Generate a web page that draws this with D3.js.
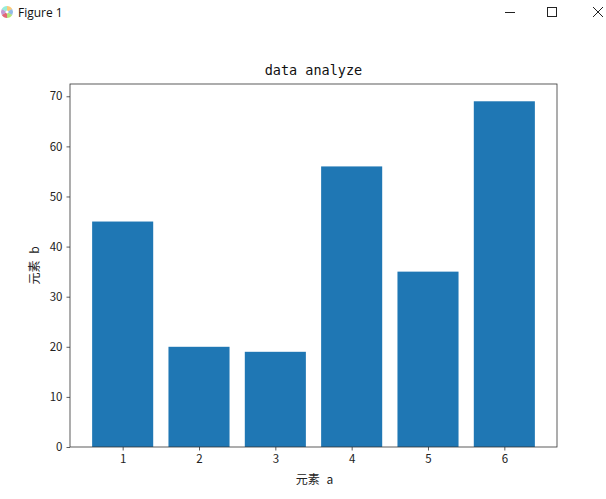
<!DOCTYPE html>
<html>
<head>
<meta charset="utf-8">
<script src="https://cdn.jsdelivr.net/npm/d3@7"></script>
<style>
  body { margin: 0; background: #fff; }
  svg { display: block; }
</style>
</head>
<body>
<svg id="fig"></svg>
<script>
// chart data
var categories = [1, 2, 3, 4, 5, 6];
var values = [45, 20, 19, 56, 35, 69];
var yTicks = [0, 10, 20, 30, 40, 50, 60, 70];
var titleText = 'data analyze';
var xLabel = '元素 a';
var yLabel = '元素 b';

// layout (note: "top" is reserved on window, so prefix these)
var width = 606,
	height = 499,
	axLeft = 70,
	axRight = 557,
	axTop = 84,
	axBottom = 447,
	barColor = '#1f77b4',
	tickFont = '"Noto Sans CJK SC", "DejaVu Sans", sans-serif';

var svg = d3.select('#fig')
	.attr('width', width)
	.attr('height', height);

svg.append('rect')
	.attr('width', width)
	.attr('height', height)
	.attr('fill', '#fff');

/* --- window title bar --- */
var bar = svg.append('g');
var iconColors = ['#f5a623', '#4a90d9', '#7ed321', '#d0021b', '#9b59b6', '#50e3c2'];
var arc = d3.arc().innerRadius(1.5).outerRadius(6);
bar.selectAll('.icon')
	.data(d3.pie().value(1)(iconColors))
	.enter().append('path')
		.attr('class', 'icon')
		.attr('transform', 'translate(7,12)')
		.attr('d', arc)
		.attr('fill', function(d) { return d.data; })
		.attr('opacity', 0.6);
bar.append('text')
	.attr('x', 18)
	.attr('y', 16.5)
	.attr('font-family', '"Open Sans", "Noto Sans", sans-serif')
	.attr('font-size', '12px')
	.attr('fill', '#111')
	.text('Figure 1');
bar.append('line')
	.attr('x1', 505).attr('x2', 515)
	.attr('y1', 12.5).attr('y2', 12.5)
	.attr('stroke', '#222').attr('stroke-width', 1);
bar.append('rect')
	.attr('x', 547.5).attr('y', 7.5)
	.attr('width', 9).attr('height', 9)
	.attr('fill', 'none').attr('stroke', '#222').attr('stroke-width', 1);
bar.append('path')
	.attr('d', 'M593,7L603,17M603,7L593,17')
	.attr('stroke', '#222').attr('stroke-width', 1);

/* --- the chart --- */
var x = d3.scaleLinear()
	.domain([0.31, 6.69])
	.range([axLeft, axRight]);

var y = d3.scaleLinear()
	.domain([0, 72.45])
	.range([axBottom, axTop]);

var g = svg.append('g');

g.selectAll('.bar')
	.data(values)
	.enter().append('rect')
		.attr('class', 'bar')
		.attr('x', function(d, i) { return x(categories[i] - 0.4); })
		.attr('width', function(d, i) { return x(categories[i] + 0.4) - x(categories[i] - 0.4); })
		.attr('y', function(d) { return y(d); })
		.attr('height', function(d) { return y(0) - y(d); })
		.attr('fill', barColor);

// axes
var xAxis = g.append('g')
	.attr('transform', 'translate(0,' + axBottom + ')')
	.call(d3.axisBottom(x).tickValues(categories).tickSize(3.5).tickPadding(4).tickFormat(d3.format('d')));

var yAxis = g.append('g')
	.attr('transform', 'translate(' + axLeft + ',0)')
	.call(d3.axisLeft(y).tickValues(yTicks).tickSize(3.5).tickPadding(4).tickFormat(d3.format('d')));

[xAxis, yAxis].forEach(function(a) {
	a.select('.domain').remove();
	a.selectAll('line').attr('stroke', '#333').attr('stroke-width', 0.8);
	a.selectAll('text')
		.attr('font-family', tickFont)
		.attr('font-size', '11.5px')
		.attr('fill', '#222');
});

// frame
g.append('rect')
	.attr('x', axLeft)
	.attr('y', axTop)
	.attr('width', axRight - axLeft)
	.attr('height', axBottom - axTop)
	.attr('fill', 'none')
	.attr('stroke', '#333')
	.attr('stroke-width', 0.8);

// title and labels
g.append('text')
	.attr('x', (axLeft + axRight) / 2)
	.attr('y', 75)
	.attr('text-anchor', 'middle')
	.attr('font-family', '"DejaVu Sans Mono", "Liberation Mono", monospace')
	.attr('font-size', '13.5px')
	.attr('fill', '#111')
	.text(titleText);

g.append('text')
	.attr('x', (axLeft + axRight) / 2 + 1)
	.attr('y', 484)
	.attr('text-anchor', 'middle')
	.attr('font-family', tickFont)
	.attr('font-size', '12px')
	.attr('word-spacing', '4px')
	.attr('fill', '#222')
	.text(xLabel);

g.append('text')
	.attr('transform', 'translate(39,' + ((axTop + axBottom) / 2) + ') rotate(-90)')
	.attr('text-anchor', 'middle')
	.attr('font-family', tickFont)
	.attr('font-size', '12px')
	.attr('word-spacing', '4px')
	.attr('fill', '#222')
	.text(yLabel);
</script>
</body>
</html>
